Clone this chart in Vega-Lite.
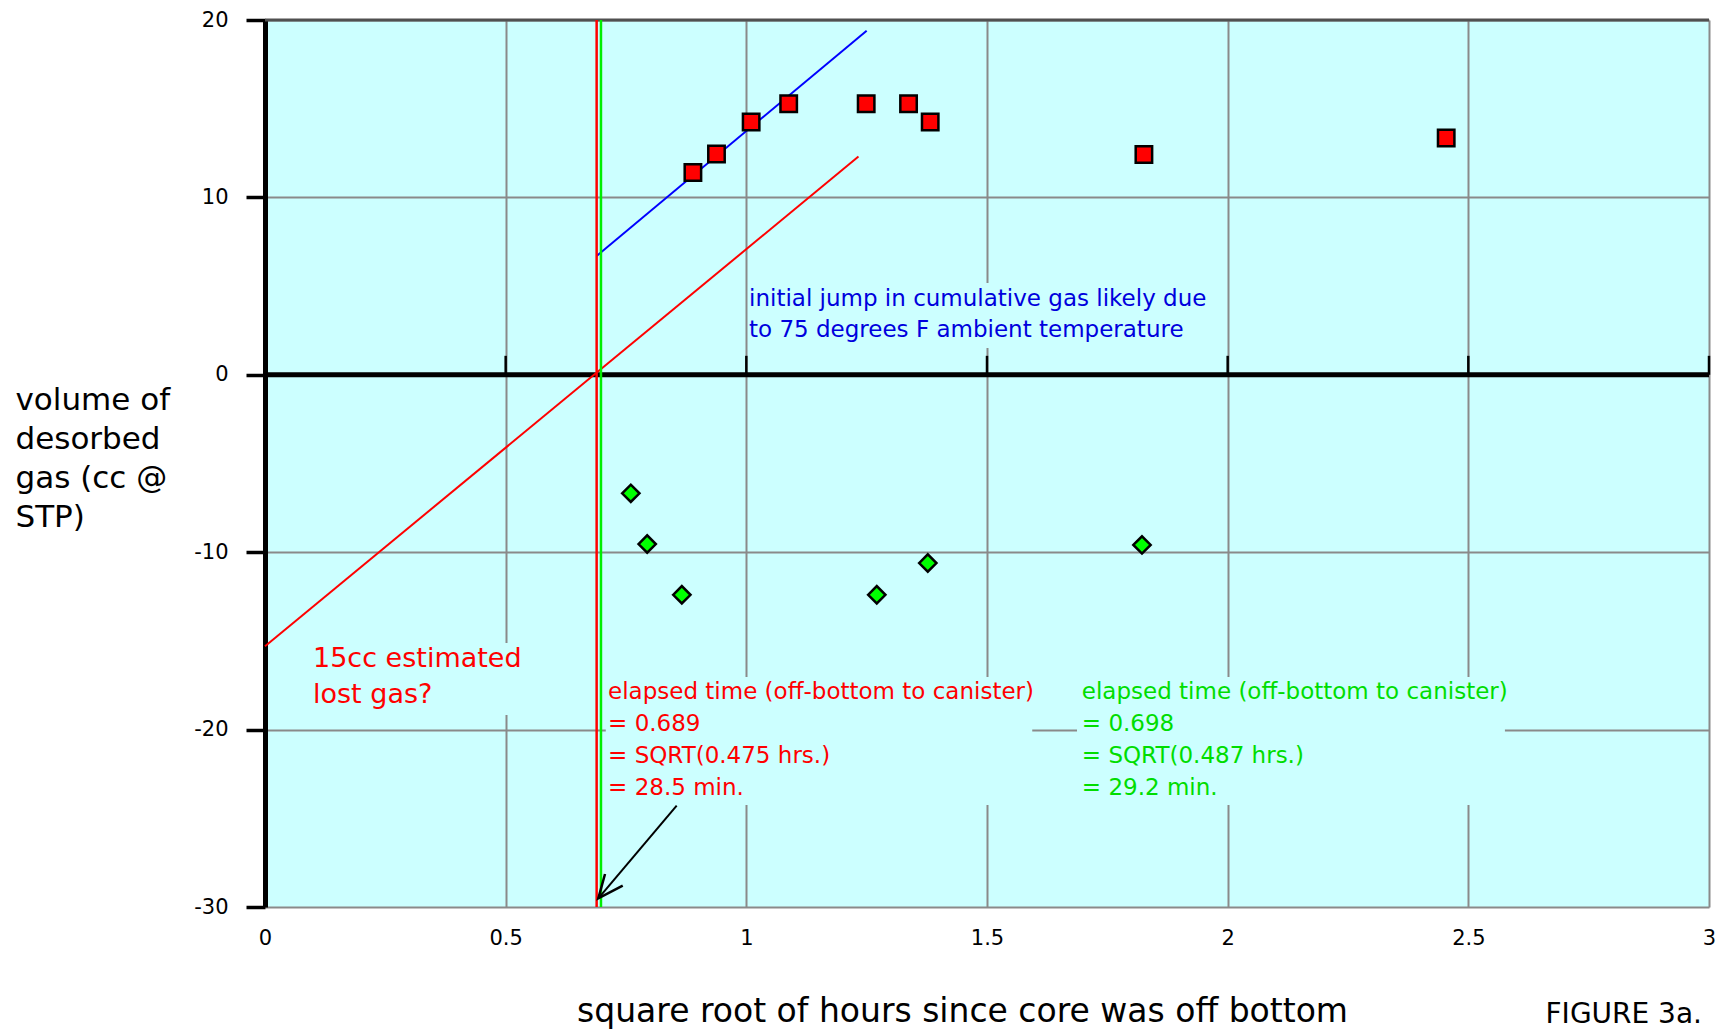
{
  "$schema": "https://vega.github.io/schema/vega-lite/v6.json",
  "width": 1444,
  "height": 887,
  "autosize": {"type": "none"},
  "padding": {"left": 265, "top": 20, "right": 11, "bottom": 124},
  "background": "white",
  "config": {
    "view": {"fill": "#CCFFFF", "stroke": null},
    "font": "DejaVu Sans",
    "axis": {
      "grid": true,
      "gridColor": "#8a8a8a",
      "gridWidth": 2,
      "gridOpacity": 1,
      "labelFont": "DejaVu Sans",
      "labelFontSize": 21,
      "labelColor": "black",
      "titleFont": "DejaVu Sans",
      "titleFontWeight": "normal",
      "titleColor": "black"
    }
  },
  "title": {
    "text": "FIGURE 3a.",
    "orient": "bottom",
    "anchor": "end",
    "frame": "group",
    "fontSize": 28,
    "font": "DejaVu Sans",
    "fontWeight": "normal",
    "color": "black",
    "baseline": "alphabetic",
    "offset": -5,
    "dx": -7
  },
  "data": {"values": [{}]},
  "layer": [
    {
      "mark": {"type": "rect", "fill": "#CCFFFF"},
      "encoding": {
        "x": {
          "datum": 1.006,
          "type": "quantitative",
          "scale": {"domain": [0, 3], "nice": false, "zero": false},
          "axis": {
            "title": "square root of hours since core was off bottom",
            "values": [0, 0.5, 1, 1.5, 2, 2.5, 3],
            "labelExpr": "'' + datum.value",
            "domain": false,
            "ticks": false,
            "tickSize": 0,
            "labelPadding": 20,
            "labelFontSize": 21,
            "labelFlush": false,
            "labelOverlap": false,
            "titleFontSize": 33,
            "titleX": 697,
            "titleY": 114,
            "titleAlign": "center",
            "titleAnchor": null,
            "titleBaseline": "alphabetic",
            "grid": true
          }
        },
        "x2": {"datum": 1.974},
        "y": {
          "datum": 5.17,
          "type": "quantitative",
          "scale": {"domain": [-30, 20], "nice": false, "zero": false},
          "axis": {
            "title": ["volume of", "desorbed", "gas (cc @", "STP)"],
            "values": [-30, -20, -10, 0, 10, 20],
            "labelExpr": "'' + datum.value",
            "domain": true,
            "domainColor": "black",
            "domainWidth": 5,
            "ticks": true,
            "tickSize": 19,
            "tickWidth": 3.5,
            "tickColor": "black",
            "labelPadding": 18,
            "labelFontSize": 21,
            "labelOverlap": false,
            "titleFontSize": 31,
            "titleAngle": 0,
            "titleAlign": "left",
            "titleBaseline": "alphabetic",
            "titleX": -250,
            "titleY": 389,
            "titleLineHeight": 39,
            "grid": true
          }
        },
        "y2": {"datum": 1.51}
      }
    },
    {
      "mark": {"type": "rect", "fill": "#CCFFFF"},
      "encoding": {
        "x": {"datum": 0.07, "type": "quantitative"},
        "x2": {"datum": 0.57},
        "y": {"datum": -15.12, "type": "quantitative"},
        "y2": {"datum": -19.18}
      }
    },
    {
      "mark": {"type": "rect", "fill": "#CCFFFF"},
      "encoding": {
        "x": {"datum": 0.708, "type": "quantitative"},
        "x2": {"datum": 1.594},
        "y": {"datum": -17.04, "type": "quantitative"},
        "y2": {"datum": -24.25}
      }
    },
    {
      "mark": {"type": "rect", "fill": "#CCFFFF"},
      "encoding": {
        "x": {"datum": 1.687, "type": "quantitative"},
        "x2": {"datum": 2.576},
        "y": {"datum": -17.04, "type": "quantitative"},
        "y2": {"datum": -24.25}
      }
    },
    {
      "mark": {"type": "rule", "color": "#505050", "strokeWidth": 3},
      "encoding": {
        "y": {"datum": 20, "type": "quantitative"}
      }
    },
    {
      "mark": {"type": "rule", "color": "black", "strokeWidth": 5},
      "encoding": {
        "y": {"datum": 0, "type": "quantitative"}
      }
    },
    {
      "data": {"values": [{"x": 0.5}, {"x": 1}, {"x": 1.5}, {"x": 2}, {"x": 2.5}, {"x": 3}]},
      "mark": {"type": "rule", "color": "black", "strokeWidth": 2.5},
      "encoding": {
        "x": {"field": "x", "type": "quantitative"},
        "y": {"datum": 0, "type": "quantitative"},
        "y2": {"datum": 1.07}
      }
    },
    {
      "data": {"values": [{"x": 0, "y": -15.3}, {"x": 1.233, "y": 12.3}]},
      "mark": {"type": "line", "color": "#ff0000", "strokeWidth": 2},
      "encoding": {
        "x": {"field": "x", "type": "quantitative"},
        "y": {"field": "y", "type": "quantitative"}
      }
    },
    {
      "data": {"values": [{"x": 0.689, "y": 6.7}, {"x": 1.25, "y": 19.4}]},
      "mark": {"type": "line", "color": "#0000ff", "strokeWidth": 2},
      "encoding": {
        "x": {"field": "x", "type": "quantitative"},
        "y": {"field": "y", "type": "quantitative"}
      }
    },
    {
      "mark": {"type": "rule", "color": "#ff0000", "strokeWidth": 2.5},
      "encoding": {
        "x": {"datum": 0.689, "type": "quantitative"}
      }
    },
    {
      "mark": {"type": "rule", "color": "#00ee00", "strokeWidth": 2.5},
      "encoding": {
        "x": {"datum": 0.698, "type": "quantitative"}
      }
    },
    {
      "data": {"values": [{"x": 0.8553, "y": -24.29}, {"x": 0.6925, "y": -29.51}]},
      "mark": {"type": "line", "color": "black", "strokeWidth": 2},
      "encoding": {
        "x": {"field": "x", "type": "quantitative"},
        "y": {"field": "y", "type": "quantitative"}
      }
    },
    {
      "data": {"values": [{"x": 0.7064, "y": -28.14, "s": 1}, {"x": 0.6925, "y": -29.51, "s": 2}, {"x": 0.7432, "y": -28.79, "s": 3}]},
      "mark": {"type": "line", "color": "black", "strokeWidth": 2.5},
      "encoding": {
        "x": {"field": "x", "type": "quantitative"},
        "y": {"field": "y", "type": "quantitative"},
        "order": {"field": "s", "type": "quantitative"}
      }
    },
    {
      "data": {"values": [
        {"x": 0.889, "y": 11.4},
        {"x": 0.938, "y": 12.45},
        {"x": 1.010, "y": 14.25},
        {"x": 1.088, "y": 15.28},
        {"x": 1.249, "y": 15.28},
        {"x": 1.337, "y": 15.28},
        {"x": 1.382, "y": 14.25},
        {"x": 1.826, "y": 12.42},
        {"x": 2.454, "y": 13.35}
      ]},
      "mark": {"type": "point", "shape": "square", "filled": true, "fill": "#ff0000", "stroke": "black", "strokeWidth": 2.5, "size": 270, "opacity": 1},
      "encoding": {
        "x": {"field": "x", "type": "quantitative"},
        "y": {"field": "y", "type": "quantitative"}
      }
    },
    {
      "data": {"values": [
        {"x": 0.760, "y": -6.68},
        {"x": 0.794, "y": -9.54},
        {"x": 0.866, "y": -12.4},
        {"x": 1.271, "y": -12.4},
        {"x": 1.377, "y": -10.61},
        {"x": 1.822, "y": -9.59}
      ]},
      "mark": {"type": "point", "shape": "diamond", "filled": true, "fill": "#00ff00", "stroke": "black", "strokeWidth": 2.5, "size": 300, "opacity": 1},
      "encoding": {
        "x": {"field": "x", "type": "quantitative"},
        "y": {"field": "y", "type": "quantitative"}
      }
    },
    {
      "data": {"values": [{"t": "initial jump in cumulative gas likely due\nto 75 degrees F ambient temperature"}]},
      "mark": {"type": "text", "align": "left", "baseline": "alphabetic", "fontSize": 23, "lineHeight": 31, "color": "#0000dd", "lineBreak": "\n", "font": "DejaVu Sans"},
      "encoding": {
        "x": {"datum": 1.0056, "type": "quantitative"},
        "y": {"datum": 3.88, "type": "quantitative"},
        "text": {"field": "t"}
      }
    },
    {
      "data": {"values": [{"t": "15cc estimated\nlost gas?"}]},
      "mark": {"type": "text", "align": "left", "baseline": "alphabetic", "fontSize": 27, "lineHeight": 36, "color": "#ff0000", "lineBreak": "\n", "font": "DejaVu Sans"},
      "encoding": {
        "x": {"datum": 0.0997, "type": "quantitative"},
        "y": {"datum": -16.47, "type": "quantitative"},
        "text": {"field": "t"}
      }
    },
    {
      "data": {"values": [{"t": "elapsed time (off-bottom to canister)\n= 0.689\n= SQRT(0.475 hrs.)\n= 28.5 min."}]},
      "mark": {"type": "text", "align": "left", "baseline": "alphabetic", "fontSize": 23, "lineHeight": 32, "color": "#ff0000", "lineBreak": "\n", "font": "DejaVu Sans"},
      "encoding": {
        "x": {"datum": 0.7127, "type": "quantitative"},
        "y": {"datum": -18.28, "type": "quantitative"},
        "text": {"field": "t"}
      }
    },
    {
      "data": {"values": [{"t": "elapsed time (off-bottom to canister)\n= 0.698\n= SQRT(0.487 hrs.)\n= 29.2 min."}]},
      "mark": {"type": "text", "align": "left", "baseline": "alphabetic", "fontSize": 23, "lineHeight": 32, "color": "#00dd00", "lineBreak": "\n", "font": "DejaVu Sans"},
      "encoding": {
        "x": {"datum": 1.697, "type": "quantitative"},
        "y": {"datum": -18.28, "type": "quantitative"},
        "text": {"field": "t"}
      }
    }
  ]
}
